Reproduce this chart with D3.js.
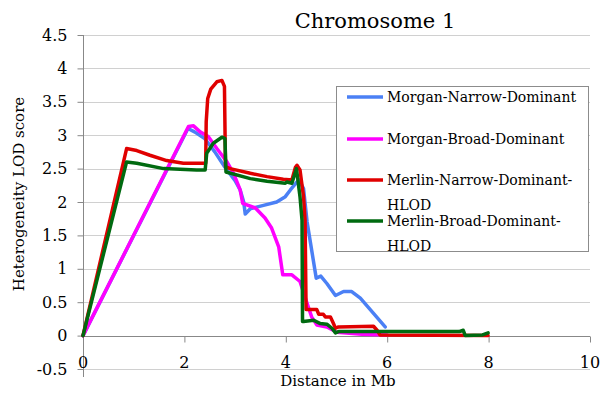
<!DOCTYPE html>
<html>
<head>
  <meta charset="utf-8">
  <title>Chromosome 1 - Heterogeneity LOD score</title>
  <style>
    html, body {
      margin: 0;
      padding: 0;
      background: #fff;
      overflow: hidden;
    }
    text {
      font-family: "DejaVu Serif", serif;
      fill: #000;
    }
    .grid line {
      stroke: #d0d0d0;
      stroke-width: 1;
    }
    .series {
      fill: none;
      stroke-width: 3.5;
      stroke-linejoin: round;
      stroke-linecap: round;
    }
  </style>
  <script src="https://d3js.org/d3.v7.min.js"></script>
</head>
<body>
  <div id="chart"></div>

  <script>
    // series names and colours, legend order
    const seriesNames = [
      "Morgan-Narrow-Dominant",
      "Morgan-Broad-Dominant",
      "Merlin-Narrow-Dominant-HLOD",
      "Merlin-Broad-Dominant-HLOD"
    ];
    const seriesColors = ["#4b80f5", "#ff00ff", "#e00000", "#006a10"];

    // [distance in Mb, LOD]
    const morganNarrow = [
      [0, 0], [2.07, 3.10], [2.2, 3.05], [2.40, 2.95], [2.6, 2.75], [2.80, 2.52],
      [3.0, 2.32], [3.10, 2.18], [3.17, 2.0], [3.20, 1.82], [3.30, 1.90], [3.56, 1.95],
      [3.82, 2.0], [3.99, 2.08], [4.09, 2.18], [4.22, 2.30], [4.26, 2.33], [4.35, 2.2],
      [4.42, 1.70], [4.51, 1.28], [4.60, 0.86], [4.69, 0.89], [4.81, 0.78], [4.98, 0.60],
      [5.14, 0.66], [5.30, 0.66], [5.47, 0.56], [5.96, 0.13]
    ];
    const morganBroad = [
      [0, 0], [2.08, 3.13], [2.18, 3.14], [2.31, 3.05], [2.47, 2.98], [2.64, 2.80],
      [2.84, 2.60], [2.97, 2.43], [3.10, 2.18], [3.15, 1.98], [3.40, 1.91], [3.59, 1.76],
      [3.72, 1.61], [3.86, 1.33], [3.94, 0.91], [4.12, 0.91], [4.28, 0.81], [4.40, 0.53],
      [4.51, 0.28], [4.61, 0.16], [4.81, 0.13], [5.01, 0.05], [5.5, 0.02], [6.0, 0.01]
    ];
    const merlinNarrow = [
      [0, 0], [0.86, 2.80], [1.06, 2.77], [1.32, 2.70], [1.65, 2.62], [1.98, 2.58],
      [2.42, 2.58], [2.43, 3.2], [2.46, 3.55], [2.52, 3.69], [2.64, 3.80], [2.74, 3.82],
      [2.79, 3.73], [2.81, 2.53], [2.90, 2.50], [3.30, 2.43], [3.63, 2.38], [3.95, 2.34],
      [4.12, 2.33], [4.19, 2.52], [4.22, 2.55], [4.28, 2.48], [4.35, 2.08], [4.38, 1.73],
      [4.40, 0.39], [4.61, 0.39], [4.65, 0.32], [4.74, 0.32], [4.78, 0.28], [4.88, 0.28],
      [4.94, 0.18], [4.98, 0.11], [5.04, 0.13], [5.73, 0.14], [5.80, 0.08], [5.86, 0.01],
      [7.99, 0.0]
    ];
    const merlinBroad = [
      [0, 0], [0.86, 2.60], [1.06, 2.58], [1.59, 2.50], [2.24, 2.48], [2.41, 2.48],
      [2.44, 2.73], [2.57, 2.88], [2.74, 2.97], [2.80, 2.95], [2.82, 2.45], [3.30, 2.35],
      [3.63, 2.31], [3.99, 2.28], [4.02, 2.30], [4.12, 2.28], [4.19, 2.45], [4.21, 2.50],
      [4.28, 2.08], [4.32, 1.73], [4.33, 0.21], [4.35, 0.21], [4.55, 0.23], [4.68, 0.18],
      [4.81, 0.17], [4.91, 0.11], [4.98, 0.04], [5.04, 0.06], [7.42, 0.06], [7.50, 0.08],
      [7.54, 0.0], [7.88, 0.01], [7.99, 0.04]
    ];
    const seriesData = [morganNarrow, morganBroad, merlinNarrow, merlinBroad];

    const xTicks = [0, 2, 4, 6, 8, 10];
    const yTicks = [-0.5, 0, 0.5, 1, 1.5, 2, 2.5, 3, 3.5, 4, 4.5];

    const width = 600;
    const height = 397;

    const x = d3.scaleLinear().domain([0, 10]).range([83, 590]);
    const y = d3.scaleLinear().domain([-0.5, 4.5]).range([369, 35]);

    const svg = d3.select("#chart")
      .append("svg")
      .attr("width", width)
      .attr("height", height);

    // horizontal gridlines
    svg.append("g")
      .attr("class", "grid")
      .selectAll("line")
      .data(yTicks)
      .enter()
      .append("line")
      .attr("x1", x(0))
      .attr("x2", x(10))
      .attr("y1", d => Math.round(y(d)) + 0.5)
      .attr("y2", d => Math.round(y(d)) + 0.5);

    // y axis (ticks to the left, labels right aligned)
    const yAxis = svg.append("g")
      .attr("transform", `translate(${Math.round(x(0)) + 0.5},0)`)
      .call(d3.axisLeft(y).tickValues(yTicks).tickSize(6).tickPadding(10)
        .tickFormat(d => String(d).replace("-", "-")));
    yAxis.select(".domain").attr("stroke", "#888").attr("d", `M-0,${y(4.5)}V${y(-0.5) + 8}`);
    yAxis.selectAll(".tick line").attr("stroke", "#888");
    yAxis.selectAll(".tick text")
      .style("font-family", "DejaVu Serif")
      .style("font-size", "16px")
      .attr("fill", "#000");

    // x axis crosses at 0, labels sit at the bottom of the plot area
    const xAxis = svg.append("g")
      .attr("transform", `translate(0,${Math.round(y(0)) + 0.5})`)
      .call(d3.axisBottom(x).tickValues(xTicks).tickSize(6).tickFormat(""));
    xAxis.select(".domain").attr("stroke", "#888").attr("d", `M${x(0)},0H${x(10)}`);
    xAxis.selectAll(".tick line").attr("stroke", "#888");

    svg.append("g")
      .selectAll("text")
      .data(xTicks)
      .enter()
      .append("text")
      .attr("x", d => x(d))
      .attr("y", 368)
      .attr("text-anchor", "middle")
      .style("font-size", "16px")
      .text(d => d);

    // lines
    const line = d3.line()
      .x(d => x(d[0]))
      .y(d => y(d[1]));

    svg.append("g")
      .selectAll("path")
      .data(seriesData)
      .enter()
      .append("path")
      .attr("class", "series")
      .attr("stroke", (d, i) => seriesColors[i])
      .attr("d", line);

    // titles
    svg.append("text")
      .attr("x", 375)
      .attr("y", 28)
      .attr("text-anchor", "middle")
      .style("font-size", "21px")
      .text("Chromosome 1");

    svg.append("text")
      .attr("transform", "translate(24,194) rotate(-90)")
      .attr("text-anchor", "middle")
      .style("font-size", "15px")
      .text("Heterogeneity LOD score");

    svg.append("text")
      .attr("x", 338)
      .attr("y", 386)
      .attr("text-anchor", "middle")
      .style("font-size", "15px")
      .text("Distance in Mb");

    // legend
    const legend = svg.append("g");
    legend.append("rect")
      .attr("x", 336.5)
      .attr("y", 86.5)
      .attr("width", 252)
      .attr("height", 165)
      .attr("fill", "#fff")
      .attr("stroke", "#8c8c8c");

    const legendRows = [97, 139, 180, 221];
    const items = legend.selectAll(".item")
      .data(seriesNames)
      .enter()
      .append("g")
      .attr("class", "item")
      .attr("transform", (d, i) => `translate(0,${legendRows[i]})`);

    items.append("line")
      .attr("x1", 347)
      .attr("x2", 383)
      .attr("stroke", (d, i) => seriesColors[i])
      .attr("stroke-width", 3.5);

    items.append("text")
      .attr("x", 387)
      .attr("y", 5)
      .style("font-size", "14px")
      .each(function (d) {
        const parts = d.endsWith("-HLOD") ? [d.slice(0, -4), "HLOD"] : [d];
        d3.select(this).selectAll("tspan")
          .data(parts)
          .enter()
          .append("tspan")
          .attr("x", 387)
          .attr("dy", (p, j) => j === 0 ? 0 : 25)
          .text(p => p);
      });
  </script>
</body>
</html>
